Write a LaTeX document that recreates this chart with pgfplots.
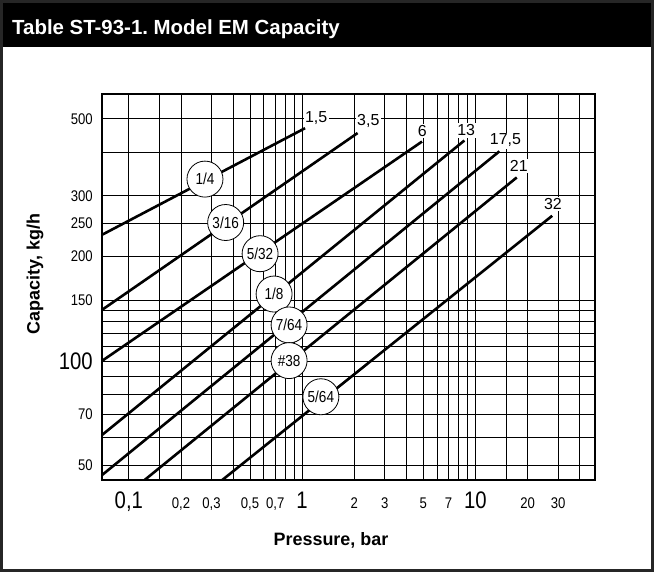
\documentclass[border=0pt]{standalone}
\usepackage{fontspec}
\setmainfont{Liberation Sans}
\newfontfamily\cond[FakeStretch=0.85]{Liberation Sans}
\usepackage{pgfplots}
\pgfplotsset{compat=1.18}
\newcommand\bigt[1]{{\fontsize{24}{24}\selectfont #1}}
\frenchspacing
\begin{document}
\begin{tikzpicture}
\path[use as bounding box] (0bp,0bp) rectangle (654bp,572bp);
\fill[black] (0bp,525bp) rectangle (654bp,572bp);
\draw[line width=3bp, black!85] (1.5bp,1.5bp) rectangle (652.5bp,570.5bp);
\node[anchor=base west, text=white, font=\bfseries\fontsize{20.5}{20.5}\selectfont, inner sep=0pt] at (12bp,537bp) {Table ST-93-1. Model EM Capacity};
\begin{axis}[at={(102bp,92bp)}, anchor=south west, width=493bp, height=386bp, scale only axis,
  xmode=log, ymode=log, xmin=0.07, xmax=49, ymin=45.3, ymax=590,
  xtick={0.1,0.15,0.2,0.3,0.4,0.5,0.6,0.7,0.8,0.9,1,2,3,4,5,6,7,8,9,10,15,20,30,40},
  xticklabels={{\bigt{0,1}},{},{0,2},{0,3},{},{0,5},{},{0,7},{},{},{\bigt{1}},2,3,{},5,{},7,{},{},{\bigt{10}},{},20,30,{}},
  ytick={50,60,70,80,90,100,110,120,130,140,150,200,250,300,400,500},
  yticklabels={50,{},70,{},{},{\bigt{100}},{},{},{},{},150,200,250,300,{},500},
  minor xtick={}, minor ytick={},
  grid=major, major grid style={black, line width=0.75bp},
  major tick length=0pt, axis line style={black, line width=1.4bp},
  xticklabel style={font=\cond\fontsize{15.5}{15.5}\selectfont, anchor=north, text height=17.5bp, text depth=0pt, inner sep=0pt, yshift=-11bp},
  yticklabel style={font=\cond\fontsize{15.5}{15.5}\selectfont, anchor=east, inner sep=0pt, xshift=-9bp},
]
\addplot[black, line width=2.6bp] coordinates {(0.07,231.3) (1.04,470)};
\addplot[black, line width=2.6bp] coordinates {(0.07,140.4) (2.09,455)};
\addplot[black, line width=2.6bp] coordinates {(0.07,100) (4.92,430)};
\addplot[black, line width=2.6bp] coordinates {(0.07,61.1) (8.64,433)};
\addplot[black, line width=2.6bp] coordinates {(0.07,46.8) (13.76,403)};
\addplot[black, line width=2.6bp] coordinates {(0.1233,45.3) (17.33,338.7)};
\addplot[black, line width=2.6bp] coordinates {(0.346,45.3) (27.75,262.5)};
\tikzset{pl/.style={fill=white, inner sep=1.5bp, font=\fontsize{16}{16}\selectfont},
         cl/.style={circle, draw, line width=0.8bp, fill=white, minimum size=36bp, inner sep=0pt, font=\cond\fontsize{16}{16}\selectfont}}
\node[pl] at (axis cs:1.205,504) {1,5};
\node[pl] at (axis cs:2.41,494) {3,5};
\node[pl] at (axis cs:4.94,462) {6};
\node[pl] at (axis cs:8.84,463) {13};
\node[pl] at (axis cs:14.9,433) {17,5};
\node[pl] at (axis cs:17.8,366) {21};
\node[pl] at (axis cs:28,284) {32};
\node[cl] at (axis cs:0.275,335) {1/4};
\node[cl] at (axis cs:0.362,251) {3/16};
\node[cl] at (axis cs:0.572,204) {5/32};
\node[cl] at (axis cs:0.689,156) {1/8};
\node[cl] at (axis cs:0.841,127) {7/64};
\node[cl] at (axis cs:0.841,100.2) {\#38};
\node[cl] at (axis cs:1.283,78.8) {5/64};
\end{axis}
\node[rotate=90, font=\bfseries\fontsize{18}{18}\selectfont] at (35bp,298bp) {Capacity, kg/h};
\node[font=\bfseries\fontsize{18}{18}\selectfont] at (331bp,32bp) {Pressure, bar};
\end{tikzpicture}
\end{document}
